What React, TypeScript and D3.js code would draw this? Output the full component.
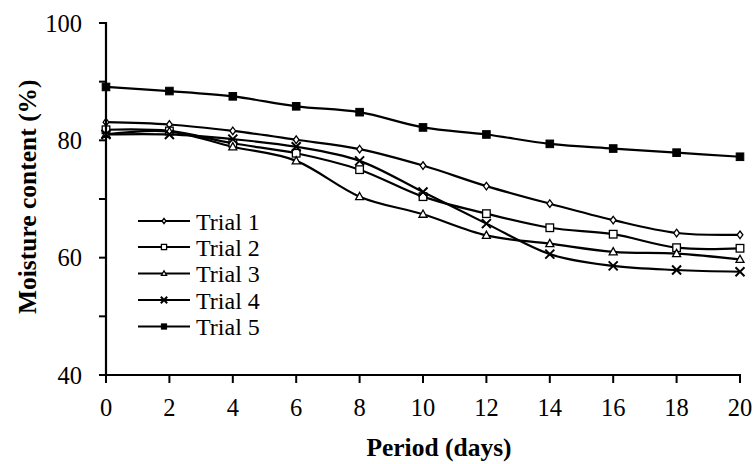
import React from "react";
import * as d3 from "d3";

const days = [0, 2, 4, 6, 8, 10, 12, 14, 16, 18, 20];
const trial1 = [83.1, 82.7, 81.6, 80.1, 78.5, 75.7, 72.2, 69.2, 66.4, 64.2, 63.9];
const trial2 = [81.8, 81.6, 79.5, 77.8, 75.0, 70.4, 67.5, 65.1, 64.0, 61.7, 61.6];
const trial3 = [81.0, 81.5, 78.9, 76.5, 70.4, 67.4, 63.8, 62.4, 61.0, 60.7, 59.7];
const trial4 = [81.0, 81.0, 80.2, 78.9, 76.5, 71.2, 65.8, 60.6, 58.6, 57.9, 57.6];
const trial5 = [89.1, 88.4, 87.5, 85.8, 84.8, 82.2, 81.0, 79.4, 78.6, 77.9, 77.2];

const seriesNames = ["Trial 1", "Trial 2", "Trial 3", "Trial 4", "Trial 5"];
const seriesValues = [trial1, trial2, trial3, trial4, trial5];
const markerTypes = ["diamond", "square", "triangle", "cross", "filled"];

const xTicks = [0, 2, 4, 6, 8, 10, 12, 14, 16, 18, 20];
const yTickLabels = [40, 60, 80, 100];
const yMinorTicks = [40, 50, 60, 70, 80, 90, 100];

const FONT = '"Liberation Serif", "DejaVu Serif", "Times New Roman", serif';

function Marker({ type, x, y, s }: { type: string; x: number; y: number; s: number }) {
  const sw = 1.3;
  if (type === "diamond") {
    return (
      <path
        d={`M${x},${y - s}L${x + s * 0.75},${y}L${x},${y + s}L${x - s * 0.75},${y}Z`}
        fill="#fff"
        stroke="#000"
        strokeWidth={sw}
      />
    );
  }
  if (type === "square") {
    return <rect x={x - s} y={y - s} width={2 * s} height={2 * s} fill="#fff" stroke="#000" strokeWidth={sw} />;
  }
  if (type === "triangle") {
    return (
      <path
        d={`M${x},${y - s * 1.05}L${x + s},${y + s * 0.75}L${x - s},${y + s * 0.75}Z`}
        fill="#fff"
        stroke="#000"
        strokeWidth={sw}
      />
    );
  }
  if (type === "cross") {
    return (
      <path
        d={`M${x - s},${y - s}L${x + s},${y + s}M${x - s},${y + s}L${x + s},${y - s}`}
        stroke="#000"
        strokeWidth={2}
        fill="none"
      />
    );
  }
  return <rect x={x - s} y={y - s} width={2 * s} height={2 * s} fill="#000" stroke="#000" strokeWidth={1} />;
}

export default function App() {
  const W = 754;
  const H = 464;
  const x = d3.scaleLinear().domain([0, 20]).range([106, 740]);
  const y = d3.scaleLinear().domain([40, 100]).range([375, 23]);

  const line = d3
    .line<number>()
    .x((_, i) => x(days[i]))
    .y((v) => y(v))
    .curve(d3.curveCatmullRom.alpha(0));

  const markerSize = [3.8, 3.8, 4, 4.5, 3.8];
  const legendY = [221, 247, 273.5, 300, 326.5];
  const textStyle: React.CSSProperties = { fontFamily: FONT };

  return (
    <div style={{ position: "fixed", left: 0, top: 0, width: W, height: H, background: "#fff" }}>
      <svg width={W} height={H} style={{ display: "block", fontFamily: FONT }}>
        <rect width={W} height={H} fill="#fff" />
        {seriesValues.map((vals, si) => (
          <path key={"l" + si} d={line(vals) || ""} fill="none" stroke="#000" strokeWidth={2.2} />
        ))}
        {seriesValues.map((vals, si) =>
          vals.map((v, i) => (
            <Marker key={`m${si}-${i}`} type={markerTypes[si]} x={x(days[i])} y={y(v)} s={markerSize[si]} />
          ))
        )}
        <line x1={x(0)} x2={x(0)} y1={y(100) - 1} y2={y(40)} stroke="#000" strokeWidth={2.2} />
        <line x1={x(0) - 1} x2={x(20) + 1} y1={y(40)} y2={y(40)} stroke="#000" strokeWidth={2.2} />
        {yMinorTicks.map((t) => (
          <line key={"yt" + t} x1={x(0) - 7} x2={x(0)} y1={y(t)} y2={y(t)} stroke="#000" strokeWidth={2} />
        ))}
        {xTicks.map((t) => (
          <line key={"xt" + t} x1={x(t)} x2={x(t)} y1={y(40)} y2={y(40) + 8} stroke="#000" strokeWidth={2} />
        ))}
        {yTickLabels.map((t) => (
          <text key={"yl" + t} x={82} y={y(t) + 8.5} textAnchor="end" style={textStyle} fontSize={24.5} fill="#000">
            {t}
          </text>
        ))}
        {xTicks.map((t) => (
          <text key={"xl" + t} x={x(t)} y={416} textAnchor="middle" style={textStyle} fontSize={24.5} fill="#000">
            {t}
          </text>
        ))}
        <text x={439} y={456} textAnchor="middle" style={textStyle} fontSize={25.5} fontWeight="bold" fill="#000">
          Period (days)
        </text>
        <text
          transform="translate(36,196.7) rotate(-90)"
          textAnchor="middle"
          style={textStyle}
          fontSize={25.5}
          fontWeight="bold"
          fill="#000"
        >
          Moisture content (%)
        </text>
        {seriesNames.map((name, si) => (
          <g key={"lg" + si}>
            <line x1={138} x2={190} y1={legendY[si]} y2={legendY[si]} stroke="#000" strokeWidth={2.2} />
            <Marker type={markerTypes[si]} x={164} y={legendY[si]} s={si === 3 ? 3.2 : 2.6} />
            <text x={196} y={legendY[si] + 8.5} style={textStyle} fontSize={24} fill="#000">
              {name}
            </text>
          </g>
        ))}
      </svg>
    </div>
  );
}
